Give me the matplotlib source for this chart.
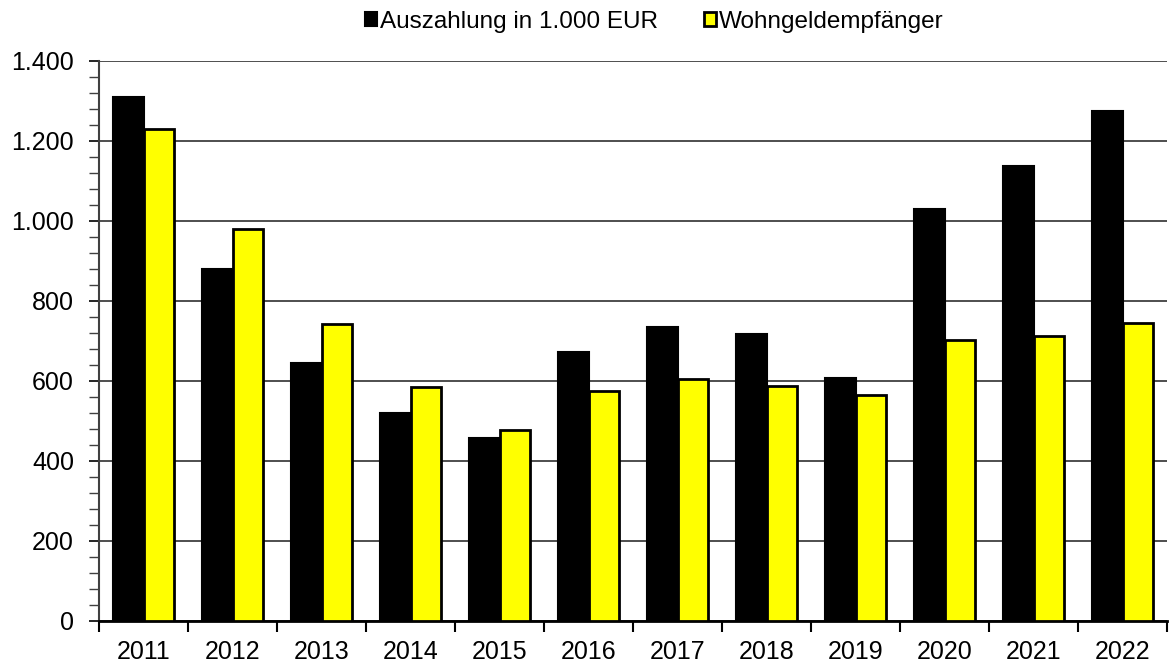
import matplotlib
matplotlib.use("Agg")
import matplotlib.pyplot as plt
from matplotlib.patches import Patch
from matplotlib.ticker import MultipleLocator, FuncFormatter
import numpy as np

years = ["2011", "2012", "2013", "2014", "2015", "2016", "2017", "2018", "2019", "2020", "2021", "2022"]
auszahlung = [1310, 881, 646, 521, 458, 672, 735, 717, 607, 1030, 1137, 1275]
empfaenger = [1231, 981, 743, 584, 478, 576, 604, 588, 564, 702, 713, 744]
series_labels = ["Auszahlung in 1.000 EUR", "Wohngeldempfänger"]

plt.rcParams['font.family'] = ['Liberation Sans', 'DejaVu Sans']
FS = 18
LFS = 17.5

fig = plt.figure(figsize=(11.7, 6.71), dpi=100)
ax = fig.add_axes([99/1170, 1 - 621/671, (1167 - 99)/1170, (621 - 61)/671])

x = np.arange(len(years))
w = 0.343
ax.bar(x - w/2, auszahlung, width=w, color="black", edgecolor="black", linewidth=1.5, zorder=3)
ax.bar(x + w/2, empfaenger, width=w, color="#FFFF00", edgecolor="black", linewidth=2.0, zorder=3)

ax.set_xlim(-0.5, len(years) - 0.5)
ax.set_ylim(0, 1400)

ax.yaxis.set_major_locator(MultipleLocator(200))
ax.yaxis.set_minor_locator(MultipleLocator(40))
ax.yaxis.set_major_formatter(FuncFormatter(lambda v, p: f"{int(v):,}".replace(",", ".")))
ax.grid(axis="y", which="major", color="#303030", linewidth=1.2, zorder=0)

ax.set_xticks(np.arange(len(years) + 1) - 0.5)
ax.set_xticklabels([])
ax.set_xticks(x, minor=True)
ax.set_xticklabels(years, minor=True)
ax.tick_params(axis="x", which="major", length=8, width=1.5, direction="out", color="black")
ax.tick_params(axis="x", which="minor", length=0, pad=14, labelsize=FS)
ax.tick_params(axis="y", which="major", length=7, width=1.2, pad=11, labelsize=FS)
ax.tick_params(axis="y", which="minor", length=7, width=1.0, color="#404040")

for s in ["top", "right"]:
    ax.spines[s].set_visible(False)
ax.spines["left"].set_color("#404040")
ax.spines["left"].set_linewidth(1.5)
ax.spines["bottom"].set_color("black")
ax.spines["bottom"].set_linewidth(2.0)
ax.set_axisbelow(True)

handles = [Patch(facecolor="black", edgecolor="black", linewidth=1.5),
           Patch(facecolor="#FFFF00", edgecolor="black", linewidth=2.0)]
fig.legend(handles, series_labels, loc="center", bbox_to_anchor=(654/1170, 1 - 22/671),
           ncol=2, frameon=False, fontsize=LFS, handlelength=0.5, handleheight=0.5,
           handletextpad=0.12, columnspacing=1.9, borderpad=0)

fig.savefig("out.png", dpi=100)
